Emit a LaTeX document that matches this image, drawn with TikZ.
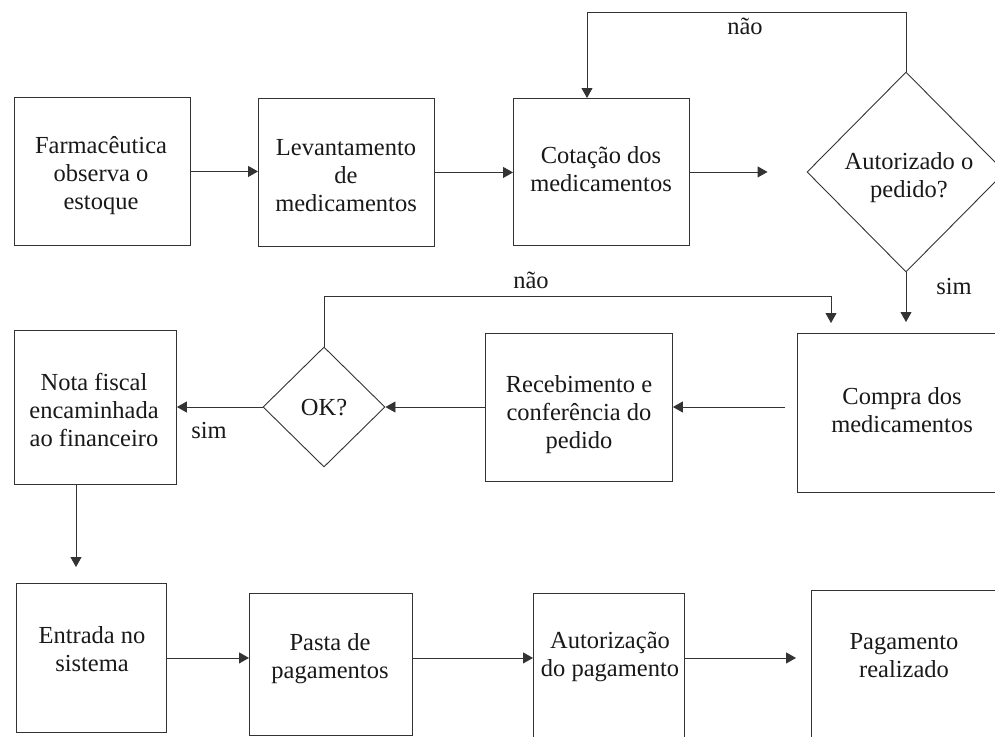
\documentclass[tikz,border=0pt]{standalone}
\usepackage{fontspec}
\setmainfont{Liberation Serif}
\usetikzlibrary{shapes.geometric,arrows.meta,calc}
\begin{document}
\begin{tikzpicture}[x=1pt,y=-1pt,
  every node/.style={font=\fontsize{24.5}{28}\selectfont, text=black!90},
  box/.style={draw=black!80, line width=0.9pt, rectangle, inner sep=0pt, anchor=north west},
  dia/.style={draw=black!80, line width=0.9pt, diamond, inner sep=0pt, aspect=1},
  txt/.style={align=center, inner sep=0pt},
  arr/.style={draw=black!80, line width=0.9pt, -{Triangle[length=10pt,width=11pt]}}
]
\clip (0,0) rectangle (995,736);
\fill[white] (0,0) rectangle (995,736);

% row 1
\node[box, minimum width=176pt, minimum height=148pt] (farm) at (14,97) {};
\node[txt] at (101,176) {Farmacêutica\\observa o\\estoque};
\node[box, minimum width=176pt, minimum height=148pt] (lev) at (258,98) {};
\node[txt] at (346,176) {Levantamento\\de\\medicamentos};
\node[box, minimum width=176pt, minimum height=147pt] (cot) at (513,98) {};
\node[txt] at (601,169) {Cotação dos\\medicamentos};
\node[dia, minimum width=198pt, minimum height=200pt] (aut) at (906,172) {};
\node[txt] at (909,178) {Autorizado o\\pedido?};

% row 2
\node[box, minimum width=210pt, minimum height=159pt] (compra) at (797,333) {};
\node[txt] at (902,410) {Compra dos\\medicamentos};
\node[box, minimum width=187pt, minimum height=148pt] (receb) at (485,333) {};
\node[txt] at (579,415) {Recebimento e\\conferência do\\pedido};
\node[dia, minimum width=122pt, minimum height=120pt] (ok) at (324,407) {};
\node[txt] at (324,408) {OK?};
\node[box, minimum width=162pt, minimum height=154pt] (nota) at (14,330) {};
\node[txt] at (94,410) {Nota fiscal\\encaminhada\\ao financeiro};

% row 3
\node[box, minimum width=150pt, minimum height=149pt] (entrada) at (16,583) {};
\node[txt] at (92,649) {Entrada no\\sistema};
\node[box, minimum width=163pt, minimum height=142pt] (pasta) at (249,593) {};
\node[txt] at (330,659) {Pasta de\\pagamentos};
\node[box, minimum width=151pt, minimum height=160pt] (autp) at (533,593) {};
\node[txt] at (610,657) {Autorização\\do pagamento};
\node[box, minimum width=190pt, minimum height=160pt] (pag) at (811,590) {};
\node[txt] at (904,656) {Pagamento\\realizado};

% connectors row 1
\draw[arr] (farm.east) -- (farm.east -| lev.west);
\draw[arr] (lev.east) -- (lev.east -| cot.west);
\draw[arr, shorten >=39pt] (cot.east) -- (cot.east -| aut.west);
\coordinate (t1) at (587,12);
\draw[arr] (aut.north) |- (t1) -- (t1 |- cot.north);
\node at (745,26) {não};

% row 1 -> row 2
\draw[arr, shorten >=11pt] (aut.south) -- (aut.south |- compra.north);
\node at (954,287) {sim};

% row 2
\draw[arr, shorten <=12pt] (ok.east -| compra.west) -- (ok.east -| receb.east);
\draw[arr] (ok.east -| receb.west) -- (ok.east);
\draw[arr] (ok.west) -- (ok.west -| nota.east);
\node at (209,431) {sim};
\coordinate (t2) at (831,296);
\draw[arr, shorten >=10pt] (ok.north) |- (t2) -- (t2 |- compra.north);
\node at (531,280) {não};

% row 2 -> row 3
\coordinate (n1) at (76,0);
\draw[arr, shorten >=16pt] (nota.south -| n1) -- (n1 |- entrada.north);

% row 3
\draw[arr] (entrada.east) -- (entrada.east -| pasta.west);
\draw[arr] (entrada.east -| pasta.east) -- (entrada.east -| autp.west);
\draw[arr, shorten >=15pt] (entrada.east -| autp.east) -- (entrada.east -| pag.west);
\end{tikzpicture}
\end{document}
